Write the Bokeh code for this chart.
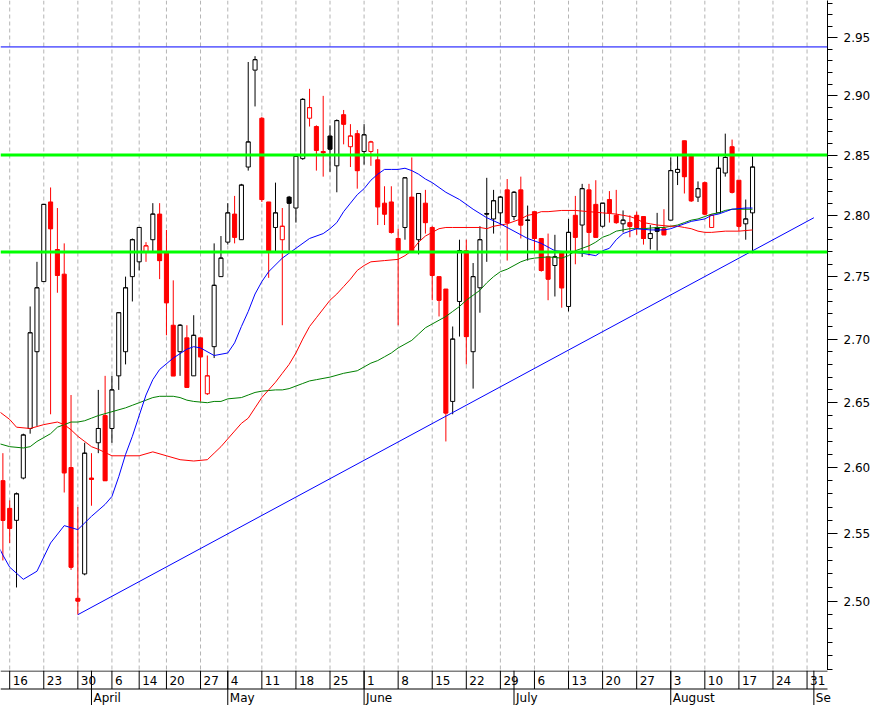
from bokeh.plotting import figure
from bokeh.models import Range1d, FixedTicker, PrintfTickFormatter, Span
from bokeh.layouts import column
from bokeh.core.properties import value
from bokeh.embed import file_html
from bokeh.resources import INLINE

# ---- daily candles (trading-day order, 13 Mar 2009 .. 19 Aug 2009) ----
opens = [2.590, 2.569, 2.560, 2.592, 2.630, 2.690, 2.746, 2.811, 2.772, 2.752,
         2.600, 2.502, 2.520, 2.592, 2.619, 2.640, 2.630, 2.671, 2.690, 2.750,
         2.762, 2.770, 2.780, 2.801, 2.770, 2.711, 2.690, 2.701, 2.671, 2.701,
         2.657, 2.694, 2.750, 2.778, 2.801, 2.780, 2.840, 2.922, 2.881, 2.811,
         2.790, 2.780, 2.815, 2.806, 2.847, 2.881, 2.874, 2.853, 2.866, 2.841,
         2.884, 2.857, 2.868, 2.853, 2.853, 2.846, 2.810, 2.811, 2.781, 2.790,
         2.815, 2.780, 2.810, 2.790, 2.750, 2.740, 2.651, 2.730, 2.771, 2.690,
         2.741, 2.8015, 2.797, 2.802, 2.821, 2.799, 2.821, 2.7962, 2.803, 2.781,
         2.766, 2.759, 2.770, 2.726, 2.800, 2.792, 2.821, 2.809, 2.791, 2.813,
         2.800, 2.793, 2.794, 2.800, 2.799, 2.781, 2.790, 2.789, 2.796, 2.8355,
         2.862, 2.850, 2.815, 2.827, 2.790, 2.802, 2.835, 2.857, 2.829, 2.793,
         2.802]
highs = [2.611, 2.575, 2.581, 2.626, 2.726, 2.762, 2.809, 2.823, 2.806, 2.777,
         2.656, 2.570, 2.619, 2.611, 2.660, 2.671, 2.671, 2.721, 2.750, 2.781,
         2.790, 2.778, 2.810, 2.810, 2.788, 2.747, 2.712, 2.711, 2.719, 2.701,
         2.687, 2.777, 2.783, 2.810, 2.816, 2.826, 2.929, 2.934, 2.882, 2.811,
         2.827, 2.806, 2.816, 2.850, 2.898, 2.906, 2.875, 2.900, 2.875, 2.880,
         2.888, 2.876, 2.871, 2.876, 2.862, 2.855, 2.824, 2.824, 2.789, 2.831,
         2.848, 2.818, 2.821, 2.791, 2.750, 2.740, 2.710, 2.780, 2.780, 2.761,
         2.791, 2.831, 2.821, 2.816, 2.830, 2.820, 2.832, 2.808, 2.803, 2.781,
         2.785, 2.784, 2.770, 2.797, 2.816, 2.826, 2.826, 2.829, 2.810, 2.820,
         2.821, 2.804, 2.800, 2.803, 2.799, 2.792, 2.802, 2.805, 2.848, 2.850,
         2.862, 2.851, 2.828, 2.828, 2.801, 2.850, 2.868, 2.863, 2.829, 2.813,
         2.849]
lows = [2.530, 2.543, 2.510, 2.591, 2.626, 2.632, 2.746, 2.641, 2.737, 2.581,
        2.523, 2.490, 2.519, 2.571, 2.611, 2.590, 2.619, 2.660, 2.680, 2.730,
        2.755, 2.762, 2.770, 2.748, 2.703, 2.671, 2.671, 2.662, 2.671, 2.651,
        2.656, 2.685, 2.750, 2.776, 2.777, 2.780, 2.837, 2.891, 2.811, 2.749,
        2.770, 2.711, 2.771, 2.794, 2.846, 2.874, 2.837, 2.832, 2.836, 2.819,
        2.859, 2.840, 2.822, 2.842, 2.841, 2.792, 2.792, 2.785, 2.711, 2.780,
        2.770, 2.768, 2.785, 2.731, 2.718, 2.620, 2.641, 2.702, 2.680, 2.661,
        2.721, 2.762, 2.785, 2.792, 2.763, 2.796, 2.781, 2.763, 2.770, 2.754,
        2.731, 2.734, 2.725, 2.722, 2.760, 2.766, 2.767, 2.782, 2.790, 2.794,
        2.793, 2.786, 2.782, 2.784, 2.776, 2.772, 2.771, 2.784, 2.796, 2.825,
        2.818, 2.811, 2.811, 2.800, 2.790, 2.802, 2.832, 2.818, 2.787, 2.780,
        2.769]
closes = [2.560, 2.554, 2.580, 2.625, 2.705, 2.741, 2.809, 2.789, 2.751, 2.596,
          2.525, 2.500, 2.611, 2.591, 2.630, 2.590, 2.660, 2.721, 2.741, 2.780,
          2.790, 2.775, 2.801, 2.763, 2.729, 2.671, 2.711, 2.662, 2.703, 2.686,
          2.671, 2.743, 2.765, 2.802, 2.782, 2.825, 2.861, 2.931, 2.813, 2.771,
          2.802, 2.791, 2.810, 2.849, 2.897, 2.890, 2.854, 2.852, 2.855, 2.879,
          2.876, 2.866, 2.837, 2.867, 2.861, 2.807, 2.801, 2.786, 2.771, 2.831,
          2.770, 2.818, 2.794, 2.751, 2.731, 2.642, 2.700, 2.771, 2.702, 2.750,
          2.780, 2.801, 2.812, 2.815, 2.794, 2.819, 2.792, 2.7958, 2.781, 2.755,
          2.748, 2.766, 2.741, 2.786, 2.782, 2.822, 2.786, 2.782, 2.810, 2.802,
          2.794, 2.796, 2.791, 2.790, 2.781, 2.785, 2.787, 2.784, 2.837, 2.838,
          2.832, 2.812, 2.822, 2.801, 2.800, 2.839, 2.848, 2.819, 2.791, 2.797,
          2.840]

# ---- moving averages (day position, value) ----
ma_fast_day = [-1, 0, 1, 3, 5, 7, 9, 11, 13, 15, 16, 17, 18, 19, 20, 21, 22, 23, 25, 27,
               28, 29, 31, 33, 34, 35, 36, 37, 38, 39, 41, 43, 45, 47, 48, 49, 50, 51, 52, 53,
               54, 55, 56, 57, 58, 59, 60, 61, 62, 63, 64, 65, 67, 69, 71, 73, 75, 77, 79, 81,
               83, 85, 87, 88, 89, 90, 91, 92, 93, 95, 97, 98, 99, 101, 103, 104, 105, 106, 107, 109, 110]
ma_fast = [2.544, 2.534, 2.525, 2.516, 2.522, 2.543, 2.556, 2.553, 2.563, 2.572, 2.578, 2.593, 2.610, 2.624,
           2.640, 2.656, 2.668, 2.676, 2.685, 2.692, 2.694, 2.693, 2.687, 2.689, 2.697, 2.710, 2.722,
           2.736, 2.746, 2.754, 2.765, 2.773, 2.781, 2.785, 2.789, 2.794, 2.803, 2.810, 2.817, 2.822,
           2.829, 2.834, 2.838, 2.838, 2.838, 2.839, 2.837, 2.834, 2.830, 2.827, 2.823, 2.819, 2.813,
           2.805, 2.798, 2.793, 2.787, 2.781, 2.777, 2.771, 2.770, 2.769, 2.767, 2.771, 2.773, 2.780,
           2.785, 2.787, 2.789, 2.788, 2.788, 2.789, 2.791, 2.795, 2.797, 2.800, 2.801, 2.803, 2.805,
           2.806, 2.806]
ma_mid_day = [-1, 1, 2, 4, 6, 8, 9, 10, 11, 12, 13, 14, 16, 20, 22, 24, 26, 28, 30, 31,
              32, 33, 34, 35, 36, 37, 38, 39, 40, 41, 42, 43, 44, 45, 46, 47, 48, 49, 50, 51,
              52, 53, 54, 56, 58, 59, 60, 61, 62, 63, 64, 65, 66, 70, 71, 72, 73, 74, 75, 76,
              77, 78, 79, 80, 82, 84, 86, 88, 90, 91, 92, 93, 94, 95, 96, 98, 99, 100, 101, 102,
              103, 104, 106, 108, 110]
ma_mid = [2.645, 2.637, 2.631, 2.630, 2.633, 2.635, 2.633, 2.629, 2.624, 2.620, 2.616, 2.614, 2.609,
          2.609, 2.612, 2.609, 2.606, 2.605, 2.606, 2.611, 2.616, 2.622, 2.628, 2.634, 2.638, 2.646,
          2.654, 2.660, 2.666, 2.673, 2.680, 2.689, 2.700, 2.710, 2.717, 2.724, 2.731, 2.736, 2.742,
          2.748, 2.755, 2.759, 2.762, 2.763, 2.764, 2.767, 2.771, 2.778, 2.783, 2.786, 2.789, 2.790,
          2.790, 2.790, 2.789, 2.791, 2.792, 2.793, 2.795, 2.797, 2.800, 2.801, 2.803, 2.803, 2.804,
          2.804, 2.803, 2.802, 2.801, 2.800, 2.799, 2.797, 2.794, 2.793, 2.792, 2.791, 2.791, 2.790,
          2.789, 2.787, 2.786, 2.786, 2.787, 2.787, 2.788]
ma_slow_day = [-1, 1, 3, 4, 5, 6, 7, 8, 9, 10, 11, 12, 13, 14, 16, 18, 19, 20, 21, 22,
               23, 24, 25, 26, 27, 28, 30, 31, 32, 33, 35, 36, 37, 38, 40, 41, 42, 43, 44, 45,
               46, 48, 50, 52, 53, 54, 55, 56, 57, 58, 59, 60, 61, 62, 63, 64, 65, 66, 67, 68,
               69, 70, 71, 72, 73, 74, 75, 76, 77, 78, 80, 82, 83, 84, 85, 86, 87, 88, 89, 90,
               91, 92, 94, 96, 97, 98, 99, 100, 101, 102, 103, 104, 105, 106, 107, 108, 110]
ma_slow = [2.619, 2.616, 2.615, 2.616, 2.620, 2.623, 2.626, 2.631, 2.633, 2.635, 2.635, 2.636, 2.638,
           2.640, 2.643, 2.646, 2.648, 2.650, 2.652, 2.654, 2.655, 2.655, 2.655, 2.654, 2.652, 2.651,
           2.650, 2.651, 2.651, 2.653, 2.654, 2.656, 2.658, 2.659, 2.660, 2.660, 2.661, 2.663, 2.665,
           2.667, 2.668, 2.670, 2.673, 2.675, 2.678, 2.681, 2.683, 2.686, 2.689, 2.693, 2.696, 2.699,
           2.704, 2.709, 2.712, 2.715, 2.718, 2.722, 2.726, 2.731, 2.735, 2.739, 2.745, 2.750, 2.754,
           2.756, 2.759, 2.762, 2.764, 2.765, 2.766, 2.765, 2.767, 2.771, 2.773, 2.775, 2.778, 2.782,
           2.784, 2.787, 2.788, 2.789, 2.789, 2.790, 2.790, 2.791, 2.792, 2.794, 2.796, 2.797, 2.799,
           2.801, 2.802, 2.804, 2.805, 2.805, 2.805]

# ---- drawn levels ----
resistance_top = 2.942
level_lines = [2.85, 2.77]
trend_day = [11, 119]
trend_val = [2.490, 2.798]

# ---- axis labels ----
week_day = [1, 6, 11, 16, 20, 24, 29, 33, 38, 43, 48, 53, 58, 63, 68, 73, 78, 83, 88, 93,
            98, 103, 108, 113, 118]
week_labels = ["16", "23", "30", "6", "14", "20", "27", "4", "11", "18", "25", "1", "8", "15",
               "22", "29", "6", "13", "20", "27", "3", "10", "17", "24", "31"]
month_day = [13, 33, 53, 75, 98, 119]
month_labels = ["April", "May", "June", "July", "August", "Se"]
price_ticks = [2.50, 2.55, 2.60, 2.65, 2.70, 2.75, 2.80, 2.85, 2.90, 2.95]

FONT = "DejaVu Sans"
X0, X1 = -0.35, 121.0
Y0, Y1 = 2.4495, 2.9824
FW = 827
SW = 879

p = figure(frame_width=FW, frame_height=670, x_range=Range1d(X0, X1), y_range=Range1d(Y0, Y1),
           y_axis_type="log", x_axis_location=None, y_axis_location="right",
           toolbar_location=None, output_backend="svg",
           min_border_left=0, min_border_top=0, min_border_bottom=0, min_border_right=52,
           outline_line_color=None, background_fill_color="white", border_fill_color="white")
p.grid.visible = False

for d in week_day:
    p.add_layout(Span(location=d, dimension="height", line_color="#b4b4b4",
                      line_width=1, line_dash="4 3", level="underlay"))

n = len(opens)
xs = list(range(n))
prev_close = [opens[0]] + closes[:-1]
line_col = ["#ff0000" if c < pc else "#000000" for c, pc in zip(closes, prev_close)]
fill_col = ["white" if c > o else lc for o, c, lc in zip(opens, closes, line_col)]
tops = [max(o, c) for o, c in zip(opens, closes)]
bots = [min(o, c) for o, c in zip(opens, closes)]

p.segment(x0=xs, y0=lows, x1=xs, y1=highs, line_color=line_col, line_width=1)
p.vbar(x=xs, width=0.6, top=tops, bottom=bots, fill_color=fill_col, line_color=line_col,
       line_width=1)
p.segment(x0=[v - 0.3 for v in xs], y0=closes, x1=[v + 0.3 for v in xs], y1=closes,
          line_color=line_col, line_width=1)

p.line(trend_day, trend_val, line_color="#0000ff", line_width=1)
p.line(ma_slow_day, ma_slow, line_color="#008000", line_width=1)
p.line(ma_mid_day, ma_mid, line_color="#ff0000", line_width=1)
p.line(ma_fast_day, ma_fast, line_color="#0000ff", line_width=1)

p.add_layout(Span(location=resistance_top, dimension="width", line_color="#0000ff", line_width=1))
for lv in level_lines:
    p.add_layout(Span(location=lv, dimension="width", line_color="#00ff00", line_width=3))

minor = [round(2.45 + 0.01 * k, 2) for k in range(0, 54)]
minor = [m for m in minor if m not in price_ticks]
ax = p.yaxis[0]
ax.ticker = FixedTicker(ticks=price_ticks, minor_ticks=minor)
ax.formatter = PrintfTickFormatter(format="%.2f")
ax.major_tick_out = 10
ax.major_tick_in = 0
ax.minor_tick_out = 5
ax.minor_tick_in = 0
ax.major_label_standoff = 6
ax.major_label_text_font = FONT
ax.major_label_text_font_size = "12px"
ax.major_label_text_color = "black"
ax.axis_line_color = "black"
ax.major_tick_line_color = "black"
ax.minor_tick_line_color = "black"

# ---- two-row date strip (same day scale, a little wider so no label is cut) ----
s = figure(frame_width=SW, frame_height=35,
           x_range=Range1d(X0, X0 + (X1 - X0) * SW / FW), y_range=Range1d(0, 35),
           x_axis_location=None, y_axis_location=None, toolbar_location=None,
           output_backend="svg", min_border_left=0, min_border_right=0,
           min_border_top=0, min_border_bottom=0, outline_line_color=None,
           background_fill_color="white", border_fill_color="white")
s.grid.visible = False
s.segment(x0=[X0, X0], y0=[34.5, 16.5], x1=[X1, X1], y1=[34.5, 16.5],
          line_color="black", line_width=1)
s.segment(x0=week_day, y0=16.5, x1=week_day, y1=35, line_color="black", line_width=1)
s.segment(x0=month_day, y0=0, x1=month_day, y1=35, line_color="black", line_width=1)
s.text(x=week_day, y=25.5, text=week_labels, text_align="left", text_baseline="middle",
       x_offset=3, text_font=value(FONT), text_font_size="12px", text_color="black")
s.text(x=month_day, y=8, text=month_labels, text_align="left", text_baseline="middle",
       x_offset=2, text_font=value(FONT), text_font_size="12px", text_color="black")

layout = column(p, s, spacing=0)
open("out.html", "w").write(file_html(layout, INLINE))
